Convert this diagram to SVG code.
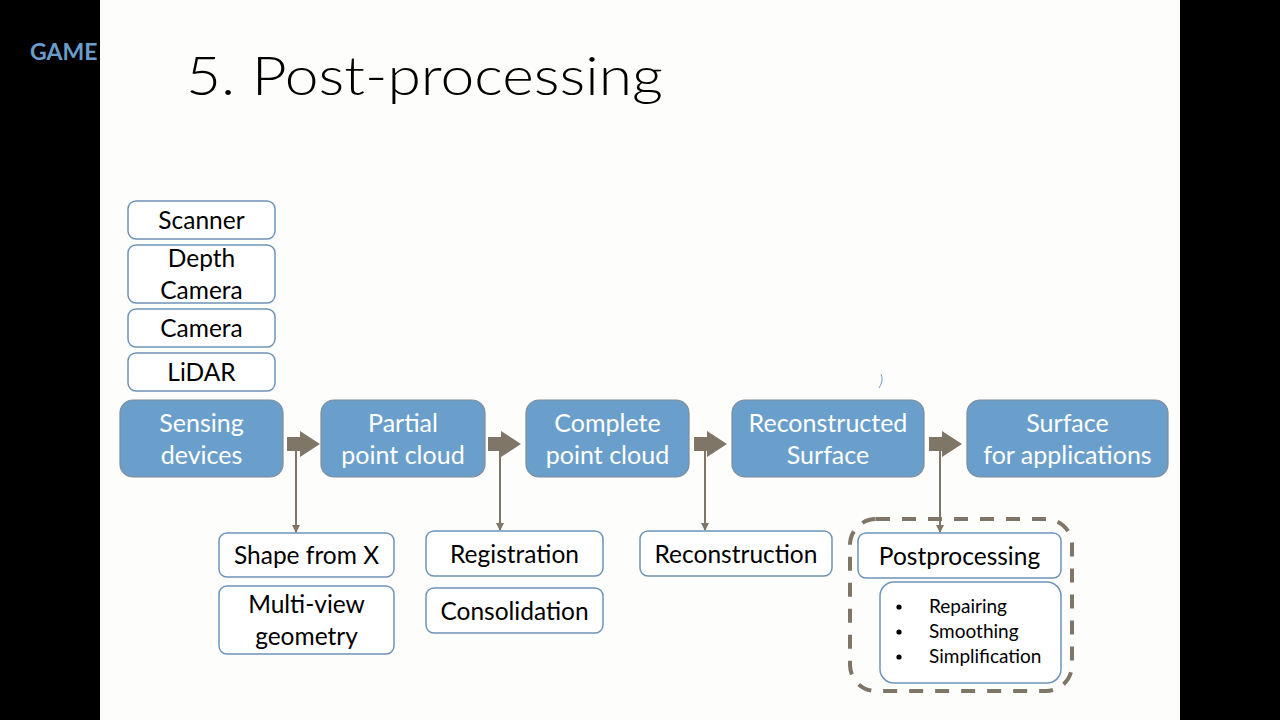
<svg xmlns="http://www.w3.org/2000/svg" width="1280" height="720" viewBox="0 0 1280 720">
  <defs>
    <style>
      .blue { fill: #6b9fcb; stroke: #7f8c98; stroke-width: 1.2; }
      .white { fill: #ffffff; stroke: #6f93b8; stroke-width: 1.5; }
      .bt { font-family: Lato, "Liberation Sans", sans-serif; font-size: 25px; fill: #ffffff; text-anchor: middle; }
      .wt { font-family: Lato, "Liberation Sans", sans-serif; font-size: 24.5px; fill: #000000; text-anchor: middle; }
      .lt { font-family: Lato, "Liberation Sans", sans-serif; font-size: 19px; fill: #000000; }
      .flow { fill: #7f7668; }
      .drop { stroke: #7f7668; stroke-width: 2; fill: none; marker-end: url(#tip); }
    </style>
    <marker id="tip" markerWidth="8" markerHeight="8" refX="7" refY="4" orient="auto" markerUnits="userSpaceOnUse">
      <path d="M0,0 L8,4 L0,8 Z" fill="#7f7668"/>
    </marker>
  </defs>

  <!-- frame -->
  <rect x="0" y="0" width="1280" height="720" fill="#000000"/>
  <text x="30" y="60" font-family="Lato, 'Liberation Sans', sans-serif" font-size="23" font-weight="bold" fill="#6a9ccc">GAME</text>
  <rect x="100" y="0" width="1080" height="720" fill="#fdfdfb"/>

  <!-- title -->
  <text x="186" y="95" font-family="Lato, 'Liberation Sans', sans-serif" font-size="54" font-weight="300" fill="#000000" textLength="477" lengthAdjust="spacingAndGlyphs">5. Post-processing</text>
  <path d="M881,374 Q884,380 879,388" stroke="#6a9ccc" stroke-width="1" fill="none"/>

  <!-- connectors -->
  <g id="connectors">
    <path class="flow" d="M287,437 H300 V431 L320,444 L300,457 V451 H287 Z"/>
    <path class="flow" d="M488,437 H501 V431 L521,444 L501,457 V451 H488 Z"/>
    <path class="flow" d="M694,437 H707 V431 L727,444 L707,457 V451 H694 Z"/>
    <path class="flow" d="M929,437 H942 V431 L962,444 L942,457 V451 H929 Z"/>
    <line class="drop" x1="296" y1="444" x2="296" y2="532"/>
    <line class="drop" x1="500" y1="444" x2="500" y2="530"/>
    <line class="drop" x1="705" y1="444" x2="705" y2="530"/>
    <line class="drop" x1="940" y1="444" x2="940" y2="532"/>
  </g>

  <!-- sensing inputs -->
  <g id="scanner">
    <rect class="white" x="128" y="201" width="147" height="38" rx="8"/>
    <text class="wt" x="201.5" y="229">Scanner</text>
  </g>
  <g id="depth-camera">
    <rect class="white" x="128" y="245" width="147" height="58" rx="8"/>
    <text class="wt" x="201.5" y="267">Depth</text>
    <text class="wt" x="201.5" y="299">Camera</text>
  </g>
  <g id="camera">
    <rect class="white" x="128" y="309" width="147" height="38" rx="8"/>
    <text class="wt" x="201.5" y="337">Camera</text>
  </g>
  <g id="lidar">
    <rect class="white" x="128" y="353" width="147" height="38" rx="8"/>
    <text class="wt" x="201.5" y="381">LiDAR</text>
  </g>

  <!-- pipeline stages -->
  <g id="sensing-devices">
    <rect class="blue" x="120" y="400" width="163" height="77" rx="13"/>
    <text class="bt" x="201.5" y="432">Sensing</text>
    <text class="bt" x="201.5" y="464">devices</text>
  </g>
  <g id="partial-point-cloud">
    <rect class="blue" x="321" y="400" width="164" height="77" rx="13"/>
    <text class="bt" x="403" y="432">Partial</text>
    <text class="bt" x="403" y="464">point cloud</text>
  </g>
  <g id="complete-point-cloud">
    <rect class="blue" x="526" y="400" width="163" height="77" rx="13"/>
    <text class="bt" x="607.5" y="432">Complete</text>
    <text class="bt" x="607.5" y="464">point cloud</text>
  </g>
  <g id="reconstructed-surface">
    <rect class="blue" x="732" y="400" width="192" height="77" rx="13"/>
    <text class="bt" x="828" y="432">Reconstructed</text>
    <text class="bt" x="828" y="464">Surface</text>
  </g>
  <g id="surface-for-applications">
    <rect class="blue" x="967" y="400" width="201" height="77" rx="13"/>
    <text class="bt" x="1067.5" y="432">Surface</text>
    <text class="bt" x="1067.5" y="464">for applications</text>
  </g>

  <!-- methods -->
  <g id="shape-from-x">
    <rect class="white" x="219" y="533" width="175" height="44" rx="8"/>
    <text class="wt" x="306.5" y="564">Shape from X</text>
  </g>
  <g id="multi-view-geometry">
    <rect class="white" x="219" y="586" width="175" height="68" rx="8"/>
    <text class="wt" x="306.5" y="613">Multi-view</text>
    <text class="wt" x="306.5" y="645">geometry</text>
  </g>
  <g id="registration">
    <rect class="white" x="426" y="531" width="177" height="45" rx="8"/>
    <text class="wt" x="514.5" y="563">Registration</text>
  </g>
  <g id="consolidation">
    <rect class="white" x="426" y="588" width="177" height="45" rx="8"/>
    <text class="wt" x="514.5" y="620">Consolidation</text>
  </g>
  <g id="reconstruction">
    <rect class="white" x="640" y="531" width="192" height="45" rx="8"/>
    <text class="wt" x="736" y="563">Reconstruction</text>
  </g>
  <g id="postprocessing-group">
    <rect x="850" y="519" width="222" height="172" rx="26" fill="none" stroke="#7f7668" stroke-width="4" stroke-dasharray="14 12"/>
  </g>
  <g id="postprocessing">
    <rect class="white" x="858" y="533" width="203" height="45" rx="8"/>
    <text class="wt" x="959.5" y="565">Postprocessing</text>
  </g>
  <g id="postprocessing-steps">
    <rect class="white" x="880" y="582" width="181" height="101" rx="14"/>
    <circle cx="899" cy="607" r="2.6" fill="#000000"/>
    <circle cx="899" cy="632" r="2.6" fill="#000000"/>
    <circle cx="899" cy="657" r="2.6" fill="#000000"/>
    <text class="lt" x="929" y="613">Repairing</text>
    <text class="lt" x="929" y="638">Smoothing</text>
    <text class="lt" x="929" y="663">Simplification</text>
  </g>
</svg>
